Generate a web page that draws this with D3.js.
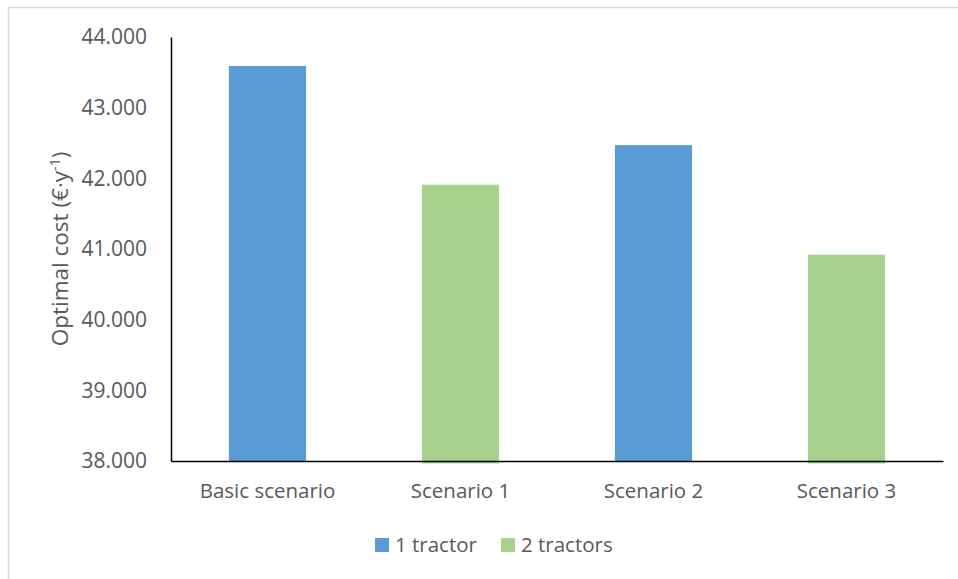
<html>
  <head>
    <title>Optimal cost</title>
    <meta charset="utf-8" />
    <script src="https://cdnjs.cloudflare.com/ajax/libs/d3/7.6.1/d3.min.js"></script>
    <style>
      body { margin: 0; background: #fff; }
      text { font-family: "Open Sans", "Noto Sans", sans-serif; fill: #595959; }
    </style>
  </head>
  <body>
    <svg width="958" height="579"></svg>
  </body>

  <script>
    // data
    const categories = ["Basic scenario", "Scenario 1", "Scenario 2", "Scenario 3"];
    const costs = [43590, 41910, 42470, 40920];
    const groups = ["1 tractor", "2 tractors", "1 tractor", "2 tractors"];
    const seriesNames = ["1 tractor", "2 tractors"];
    const yTicks = [38000, 39000, 40000, 41000, 42000, 43000, 44000];

    let svg = d3.select("svg"),
      margin = { top: 37, right: 15, bottom: 118, left: 171 },
      width = +svg.attr("width") - margin.left - margin.right,
      height = +svg.attr("height") - margin.top - margin.bottom;

    // outer frame (only top/left edges show)
    svg.append("rect")
      .attr("x", 8.5).attr("y", 7.5)
      .attr("width", 1000).attr("height", 1000)
      .attr("fill", "none").attr("stroke", "#d9d9d9").attr("stroke-width", 1.5);

    let x = d3.scaleBand().domain(categories).range([0, width]).paddingInner(0.6).paddingOuter(0.3),
      y = d3.scaleLinear().domain([38000, 44000]).range([height, 0]),
      color = d3.scaleOrdinal().domain(seriesNames).range(["#5b9bd5", "#a9d18e"]);

    const fmt = d => d3.format(",")(d).replace(",", ".");

    let g = svg.append("g").attr("transform", `translate(${margin.left},${margin.top})`);

    g.selectAll(".bar")
      .data(categories)
      .enter()
      .append("rect")
      .attr("class", "bar")
      .attr("x", d => x(d))
      .attr("width", x.bandwidth())
      .attr("y", (d, i) => y(costs[i]))
      .attr("height", (d, i) => height - y(costs[i]) + (groups[i] === "2 tractors" ? 2.5 : 0))
      .attr("fill", (d, i) => color(groups[i]));

    // y axis
    let yAxis = g.append("g")
      .call(d3.axisLeft(y).tickValues(yTicks).tickFormat(fmt).tickSize(0).tickPadding(24));
    yAxis.select(".domain").attr("stroke", "#000").attr("stroke-width", 1.5);
    yAxis.selectAll("text").style("font-size", "21px").attr("fill", "#595959");

    // x axis
    let xAxis = g.append("g")
      .attr("transform", `translate(0,${height})`)
      .call(d3.axisBottom(x).tickSize(0).tickPadding(22));
    xAxis.select(".domain").attr("stroke", "#000").attr("stroke-width", 1.5);
    xAxis.selectAll("text").style("font-size", "20.5px").attr("fill", "#595959");

    // y label
    let yl = svg.append("text")
      .attr("transform", `translate(68,${margin.top + height / 2}) rotate(-90)`)
      .attr("text-anchor", "middle")
      .style("font-size", "22.5px");
    yl.append("tspan").text("Optimal cost (€·y");
    yl.append("tspan").attr("dy", -8).style("font-size", "14px").text("-1");
    yl.append("tspan").attr("dy", 8).text(")");

    // legend
    let legendX = [375, 501];
    let legend = svg.selectAll(".legend")
      .data(seriesNames)
      .enter()
      .append("g")
      .attr("class", "legend")
      .attr("transform", (d, i) => `translate(${legendX[i]},538)`);
    legend.append("rect").attr("width", 14).attr("height", 14).attr("fill", d => color(d));
    legend.append("text")
      .attr("x", 20).attr("y", 7).attr("dy", "0.35em")
      .style("font-size", "20.5px")
      .text(d => d);
  </script>
</html>
